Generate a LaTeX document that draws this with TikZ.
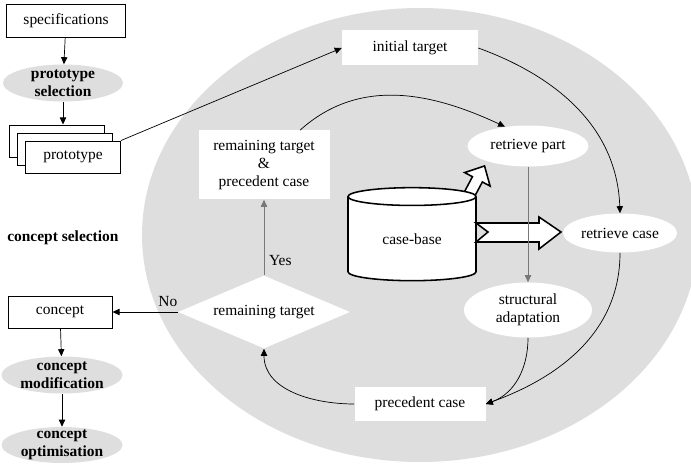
\documentclass[tikz,border=0pt]{standalone}
\usepackage{fontspec}
\setmainfont{Liberation Serif}
\usetikzlibrary{shapes.geometric,arrows.meta}
\definecolor{bggray}{RGB}{222,222,222}
\definecolor{lnkgray}{RGB}{120,120,120}
\begin{document}
\begin{tikzpicture}[
	font=\fontsize{11}{12.5}\selectfont,
	bf/.style={font=\fontsize{11}{12.5}\selectfont\bfseries},
	box/.style={draw,fill=white,line width=0.7pt,inner sep=0pt},
	plain/.style={fill=white,inner sep=0pt,align=center},
	blob/.style={ellipse,fill=#1,inner sep=-4pt,align=center},
	blob/.default=bggray,
	conn/.style={-{Triangle[length=5pt,width=4.5pt]},line width=0.5pt},
	block/.style={line width=1.1pt,fill=white,line join=miter},
	]
	\useasboundingbox (0,0) rectangle (17.275,11.575);
	\clip (0,0) rectangle (17.275,11.575);
	\fill[bggray] (10.5,5.7) ellipse [x radius=6.95cm, y radius=5.675cm];

	\node[box,minimum width=2.975cm,minimum height=0.825cm] (spec) at (1.65,11.05) {specifications};
	\node[blob,bf,minimum width=3cm,minimum height=0.925cm] (psel) at (1.575,9.5) {prototype\\selection};
	\node[box,minimum width=2.375cm,minimum height=0.8cm] (proto3) at (1.425,8.05) {};
	\node[box,minimum width=2.375cm,minimum height=0.8cm] (proto2) at (1.625,7.85) {};
	\node[box,minimum width=2.375cm,minimum height=0.8cm] (proto) at (1.825,7.65) {prototype};
	\node[bf,anchor=west,inner sep=0pt] (csel) at (0.175,5.625) {concept selection};
	\node[box,minimum width=2.6cm,minimum height=0.8cm] (concept) at (1.5,3.775) {concept};
	\node[blob,bf,minimum width=3.025cm,minimum height=0.925cm] (cmod) at (1.55,2.2) {concept\\modification};
	\node[blob,bf,minimum width=3.025cm,minimum height=0.9cm] (copt) at (1.55,0.45) {concept\\optimisation};

	\node[plain,minimum width=3.4cm,minimum height=0.875cm] (init) at (10.25,10.375) {initial target};
	\node[plain,minimum width=3.275cm,minimum height=1.725cm] (rem) at (6.6,7.45) {remaining target\\\&\\precedent case};
	\node[diamond,fill=white,aspect=2.36,minimum width=4.3cm,minimum height=1.825cm,inner sep=0pt] (dec) at (6.6,3.775) {remaining target};
	\node[blob=white,minimum width=3.025cm,minimum height=1.025cm] (rpart) at (13.2,7.925) {retrieve part};
	\node[blob=white,minimum width=2.85cm,minimum height=0.975cm] (rcase) at (15.5,5.75) {retrieve case};
	\node[blob=white,minimum width=3.2cm,minimum height=1.375cm] (sadapt) at (13.2,3.825) {structural\\adaptation};
	\node[plain,minimum width=3.275cm,minimum height=0.85cm] (prec) at (10.5,1.475) {precedent case};

	\begin{scope}[shift={(11.7,6.65)},rotate=62]
		\draw[block] (0,-0.14) -- (0.5,-0.14) -- (0.5,-0.36) -- (0.88,0) -- (0.5,0.36) -- (0.5,0.14) -- (0,0.14) -- cycle;
	\end{scope}
	\node[cylinder,shape border rotate=90,draw,fill=white,line width=1.1pt,minimum width=3.2cm,minimum height=2.325cm,aspect=0.3,inner sep=0pt] (cb) at (10.3,5.6) {case-base};
	\draw[block] (11.9,6.0) -- (13.475,6.0) -- (13.475,6.15) -- (14.025,5.775) -- (13.475,5.35) -- (13.475,5.525) -- (11.9,5.525) -- (12.2,5.775) -- cycle;

	\draw[conn] (spec) -- (psel);
	\draw[conn] (psel.south) -- (psel.south |- proto3.north);
	\draw[conn] (proto.north east) -- (init.west);
	\draw[conn] (init.east) to[out=-20,in=92] (rcase.north);
	\draw[conn] ([xshift=0.9cm]rem.north) to[out=42,in=155] (rpart.140);
	\draw[conn,lnkgray] (rpart) -- (sadapt);
	\draw[conn] (rcase.south) to[out=-90,in=20] (prec.east);
	\draw[conn] (sadapt.south) to[out=-90,in=20] (prec.east);
	\draw[conn] (prec.west) to[out=180,in=-90] (dec.south);
	\draw[conn,lnkgray] (dec) -- node[right,pos=0.2,text=black] {Yes} (rem);
	\draw[conn] (dec) -- node[above,pos=0.15] {No} (concept);
	\draw[conn] (concept) -- (cmod);
	\draw[conn] (cmod) -- (copt);
\end{tikzpicture}
\end{document}
